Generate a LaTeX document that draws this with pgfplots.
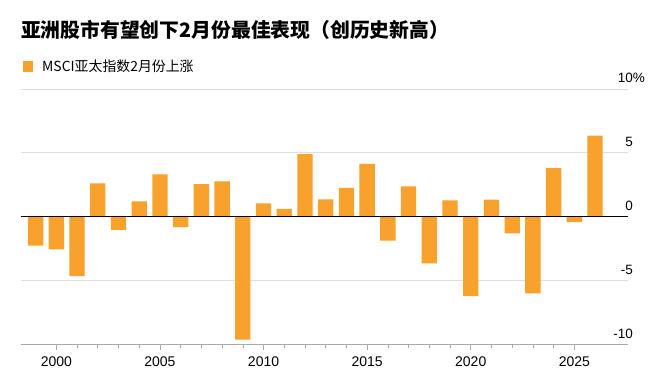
\documentclass[border=0pt]{standalone}
\usepackage{pgfplots}
\pgfplotsset{compat=1.18}
\usepackage{fontspec}
\setmainfont{Liberation Sans}
\newfontfamily\cjk{Noto Sans CJK SC}
\definecolor{barc}{RGB}{248,161,44}
\definecolor{gridc}{RGB}{222,222,222}
\definecolor{axc}{RGB}{170,170,170}
\begin{document}
\begin{tikzpicture}
\useasboundingbox (-20.7bp,-35bp) rectangle (633.3bp,344bp);
\fill[white] (-20.7bp,-35bp) rectangle (633.3bp,344bp);
\begin{axis}[
  scale only axis,
  width=607.3bp, height=255bp,
  xmin=1998.28, xmax=2027.59,
  ymin=-10, ymax=10,
  axis x line*=bottom,
  axis y line*=right,
  x axis line style={draw=axc, line width=0.6pt, -},
  y axis line style={draw=none},
  xtick={2000,2005,...,2025},
  minor x tick num=4,
  tick align=outside,
  major tick length=6bp,
  minor tick length=3.5bp,
  xtick style={draw=axc, line width=0.6pt},
  ytick style={draw=none},
  xticklabel style={font=\fontsize{14bp}{16bp}\selectfont, /pgf/number format/1000 sep=, yshift=-3bp},
  /pgf/number format/assume math mode=true,
  ytick={-10,-5,0,5,10},
  yticklabels={-10,-5,0,5,10\rlap{\%}},
  ymajorgrids,
  grid style={draw=gridc, line width=0.8pt},
  yticklabel pos=right,
  yticklabel style={anchor=base east, inner sep=0pt, xshift=-1bp, yshift=6bp, font=\fontsize{13.5bp}{16bp}\selectfont},
  ybar, bar width=0.74,
]
\addplot[fill=barc, draw=none] coordinates {
(1999,-2.29) (2000,-2.58) (2001,-4.68) (2002,2.6) (2003,-1.05) (2004,1.18)
(2005,3.3) (2006,-0.84) (2007,2.53) (2008,2.76) (2009,-9.66) (2010,1.03)
(2011,0.6) (2012,4.9) (2013,1.34) (2014,2.24) (2015,4.13) (2016,-1.9)
(2017,2.37) (2018,-3.68) (2019,1.26) (2020,-6.24) (2021,1.32) (2022,-1.32)
(2023,-6.03) (2024,3.82) (2025,-0.45) (2026,6.34)
};
\draw[black, line width=0.8pt] (rel axis cs:0,0.5) -- (rel axis cs:1,0.5);
\end{axis}
\node[anchor=base west, inner sep=0pt] at (0.3bp,306bp) {\cjk\bfseries\fontsize{19.8bp}{23bp}\selectfont 亚洲股市有望创下2月份最佳表现（创历史新高）};
\fill[barc] (2.3bp,272bp) rectangle (12.3bp,283bp);
\node[anchor=base west, inner sep=0pt] at (21.3bp,272bp) {\cjk\fontsize{13.9bp}{16bp}\selectfont MSCI亚太指数2月份上涨};
\end{tikzpicture}
\end{document}
